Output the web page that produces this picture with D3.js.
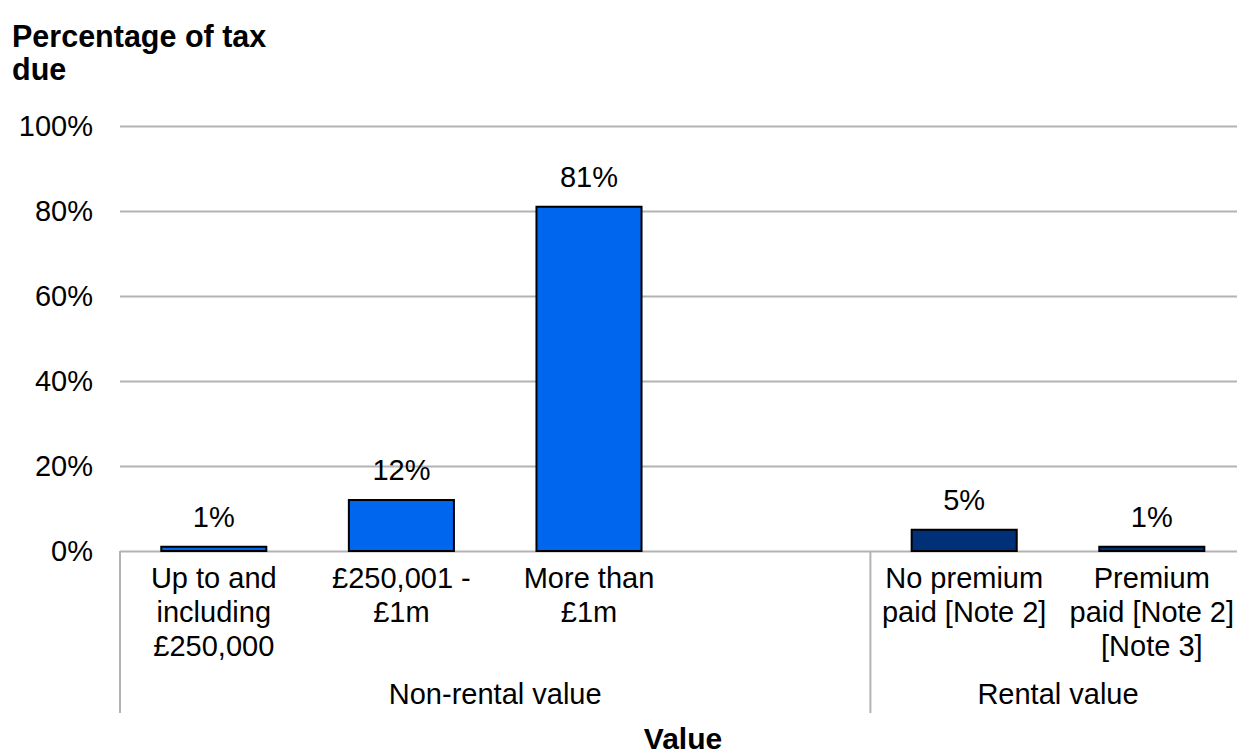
<!DOCTYPE html>
<html>
<head>
<meta charset="utf-8">
<script src="https://cdn.jsdelivr.net/npm/d3@7"></script>
<style>
  html, body { margin: 0; padding: 0; background: #fff; }
  svg { display: block; font-family: "Liberation Sans", Arial, sans-serif; }
</style>
</head>
<body>
<svg id="chart" width="1237" height="754"></svg>
<script>
// Share of tax due by property value band
const categories = ["Up to and including £250,000", "£250,001 - £1m", "More than £1m", "", "No premium paid [Note 2]", "Premium paid [Note 2] [Note 3]"];
const categoryLines = [
  ["Up to and", "including", "£250,000"],
  ["£250,001 -", "£1m"],
  ["More than", "£1m"],
  [],
  ["No premium", "paid [Note 2]"],
  ["Premium", "paid [Note 2]", "[Note 3]"]
];
const values = [1, 12, 81, null, 5, 1];
const groupOf = ["Non-rental value", "Non-rental value", "Non-rental value", "Non-rental value", "Rental value", "Rental value"];
const groups = ["Non-rental value", "Rental value"];
const yTicks = [0, 20, 40, 60, 80, 100];

const colours = { "Non-rental value": "#0066EE", "Rental value": "#003078" };
const fontSize = 29;

const svg = d3.select("#chart");
const plotLeft = 120, plotTop = 126, plotBottom = 551;
const plotRight = plotLeft + 6 * 187.6;

const x = d3.scaleBand().domain(categories.map((c, i) => i)).range([plotLeft, plotRight]).paddingInner(0.44).paddingOuter(0.22);
const slot = d3.scaleBand().domain(categories.map((c, i) => i)).range([plotLeft, plotRight]);
const y = d3.scaleLinear().domain([0, 100]).range([plotBottom, plotTop]);

// Gridlines
svg.append("g")
  .attr("transform", `translate(${plotLeft},0)`)
  .call(d3.axisLeft(y).tickValues(yTicks).tickSize(-(plotRight - plotLeft)).tickFormat(""))
  .call(g => g.select(".domain").remove())
  .call(g => g.selectAll("line").attr("stroke", "#b3b3b3").attr("stroke-width", 2));

// Y tick labels
svg.append("g")
  .attr("transform", `translate(93,0)`)
  .call(d3.axisLeft(y).tickValues(yTicks).tickSize(0).tickPadding(0).tickFormat(d => d + "%"))
  .call(g => g.select(".domain").remove())
  .call(g => g.selectAll("text").attr("font-size", fontSize).attr("fill", "#000").attr("font-family", "Liberation Sans, Arial, sans-serif"));

// Bars
const barData = values.map((v, i) => ({ i, v, g: groupOf[i] })).filter(d => d.v !== null);
svg.append("g").selectAll("rect").data(barData).join("rect")
  .attr("x", d => x(d.i))
  .attr("width", x.bandwidth())
  .attr("y", d => y(d.v))
  .attr("height", d => y(0) - y(d.v))
  .attr("fill", d => colours[d.g])
  .attr("stroke", "#000")
  .attr("stroke-width", 2);

// Value labels
svg.append("g").selectAll("text").data(barData).join("text")
  .attr("x", d => x(d.i) + x.bandwidth() / 2)
  .attr("y", d => y(d.v) - 20)
  .attr("text-anchor", "middle")
  .attr("font-size", fontSize)
  .text(d => d.v + "%");

// Category labels
const catG = svg.append("g");
categoryLines.forEach((lines, i) => {
  const cx = slot(i) + slot.bandwidth() / 2;
  const t = catG.append("text")
    .attr("x", cx)
    .attr("y", 588)
    .attr("text-anchor", "middle")
    .attr("font-size", fontSize);
  lines.forEach((ln, k) => {
    t.append("tspan").attr("x", cx).attr("y", 588 + k * 34).text(ln);
  });
});

// Group separators and labels
const groupRanges = groups.map(gname => {
  const idx = groupOf.map((g, i) => g === gname ? i : -1).filter(i => i >= 0);
  return { name: gname, x0: slot(idx[0]), x1: slot(idx[idx.length - 1]) + slot.bandwidth() };
});
svg.append("g").selectAll("line").data(groupRanges).join("line")
  .attr("x1", d => d.x0).attr("x2", d => d.x0)
  .attr("y1", plotBottom).attr("y2", 713)
  .attr("stroke", "#b3b3b3").attr("stroke-width", 2);
svg.append("g").selectAll("text").data(groupRanges).join("text")
  .attr("x", d => (d.x0 + d.x1) / 2)
  .attr("y", 704)
  .attr("text-anchor", "middle")
  .attr("font-size", fontSize)
  .text(d => d.name);

// Axis titles
svg.append("text").attr("x", 12).attr("y", 47).attr("font-size", 30.5).attr("font-weight", "bold").text("Percentage of tax");
svg.append("text").attr("x", 12).attr("y", 80).attr("font-size", 30.5).attr("font-weight", "bold").text("due");
svg.append("text").attr("x", 683).attr("y", 749).attr("text-anchor", "middle").attr("font-size", 30).attr("font-weight", "bold").text("Value");
</script>
</body>
</html>
